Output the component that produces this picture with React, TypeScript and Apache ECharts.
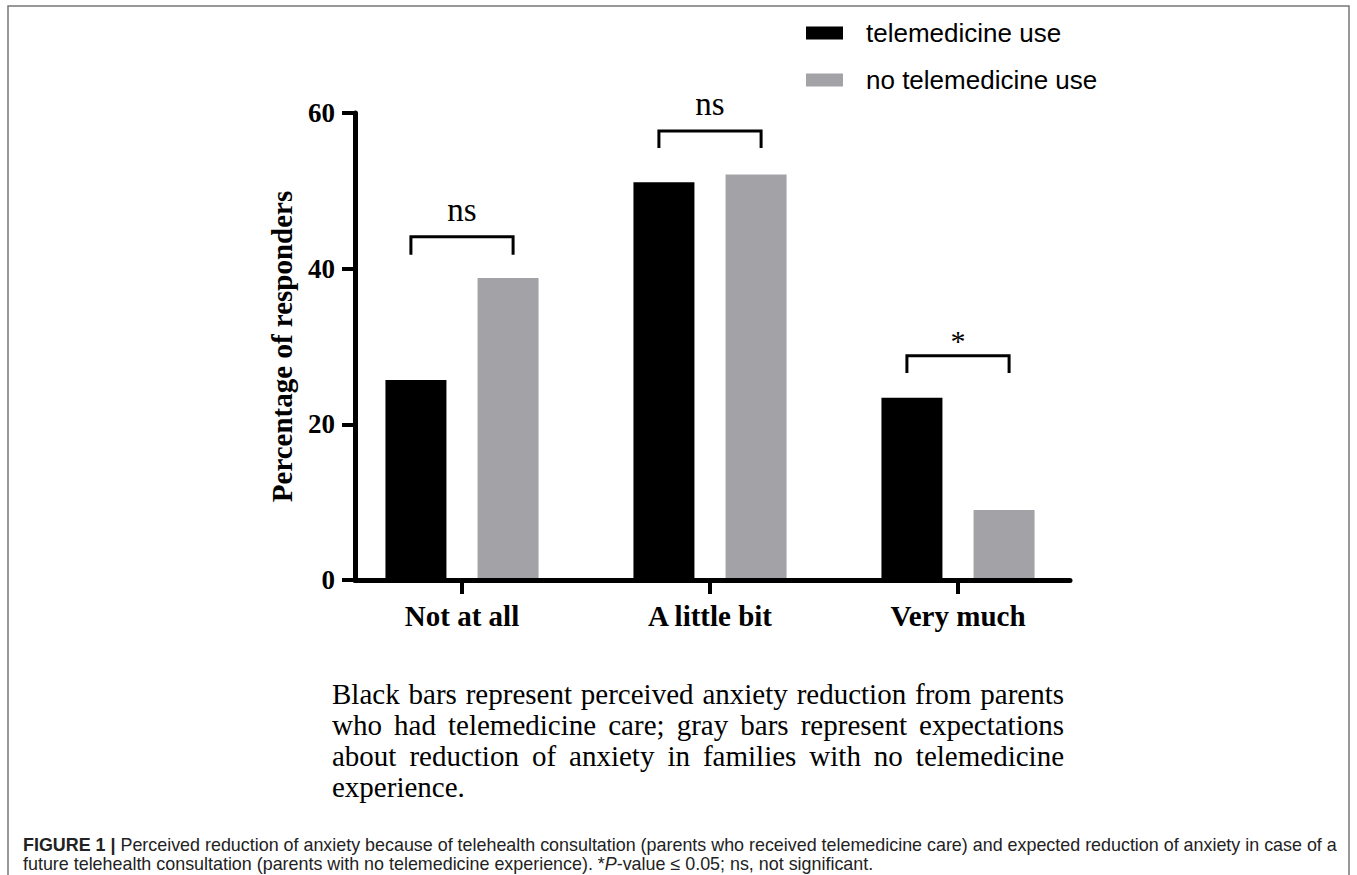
import React, { useEffect, useRef } from "react";
import * as echarts from "echarts";

const categories = ["Not at all", "A little bit", "Very much"];
const telemedicineUse = [25.7, 51.1, 23.4];
const noTelemedicineUse = [38.8, 52.1, 9.0];
const yTicks = [0, 20, 40, 60];
// bracket: [category index, bracket top value, leg bottom value]
const brackets = [
  [0, 44.1, 41.8],
  [1, 57.7, 55.5],
  [2, 28.8, 26.6],
];
const bracketLabels = ["ns", "ns", "*"];
const seriesNames = ["telemedicine use", "no telemedicine use"];
const noteLines = [
  "Black bars represent perceived anxiety reduction from parents",
  "who had telemedicine care; gray bars represent expectations",
  "about reduction of anxiety in families with no telemedicine",
  "experience.",
];
const captionLine1 =
  "{b|FIGURE 1 |} Perceived reduction of anxiety because of telehealth consultation (parents who received telemedicine care) and expected reduction of anxiety in case of a";
const captionLine2 =
  "future telehealth consultation (parents with no telemedicine experience). *{i|P}-value ≤ 0.05; ns, not significant.";

const SERIF = "'Liberation Serif', 'Times New Roman', serif";
const SANS = "'Liberation Sans', Arial, sans-serif";
const GRAY = "#a3a2a7";

const NOTE_SIZE = 29;
const NOTE_LEFT = 332;
const NOTE_WIDTH = 732;
const NOTE_TOP = 679;
const NOTE_LINE = 31;
const CAP_SIZE = 17.9;

function buildNote(): any[] {
  const ctx = document.createElement("canvas").getContext("2d");
  const font = `${NOTE_SIZE}px ${SERIF}`;
  const measure = (s: string) => {
    if (!ctx) return s.length * NOTE_SIZE * 0.45;
    ctx.font = font;
    return ctx.measureText(s).width;
  };
  const els: any[] = [];
  noteLines.forEach((line, i) => {
    const y = NOTE_TOP + i * NOTE_LINE;
    const last = i === noteLines.length - 1;
    const words = line.split(" ");
    if (last || words.length < 2) {
      els.push({
        type: "text",
        x: NOTE_LEFT,
        y,
        style: { text: line, fontFamily: SERIF, fontSize: NOTE_SIZE, fill: "#000", verticalAlign: "top" },
      });
      return;
    }
    const widths = words.map(measure);
    const total = widths.reduce((a, b) => a + b, 0);
    const gap = (NOTE_WIDTH - total) / (words.length - 1);
    let x = NOTE_LEFT;
    words.forEach((w, j) => {
      els.push({
        type: "text",
        x,
        y,
        style: { text: w, fontFamily: SERIF, fontSize: NOTE_SIZE, fill: "#000", verticalAlign: "top" },
      });
      x += widths[j] + gap;
    });
  });
  return els;
}

export default function App() {
  const ref = useRef<HTMLDivElement>(null);
  useEffect(() => {
    if (!ref.current) return;
    const chart = echarts.init(ref.current, undefined, { renderer: "svg" });
    const captionRich = {
      b: { fontFamily: SANS, fontSize: CAP_SIZE, fontWeight: "bold", fill: "#222" },
      i: { fontFamily: SANS, fontSize: CAP_SIZE, fontStyle: "italic", fill: "#222" },
    };
    const option: any = {
      animation: false,
      backgroundColor: "#fff",
      legend: {
        orient: "vertical",
        left: 806,
        top: 20,
        padding: 0,
        itemWidth: 37,
        itemHeight: 13,
        itemGap: 21,
        icon: "rect",
        data: seriesNames,
        formatter: (n: string) => "{t|" + n + "}",
        textStyle: {
          rich: {
            t: {
              fontFamily: SANS,
              fontSize: 26,
              color: "#000",
              padding: [0, 0, 0, 18],
            },
          },
        },
      },
      grid: [
        { left: 338, width: 744, top: 113, height: 467 },
        { left: 355, width: 715, top: 113, height: 467 },
      ],
      xAxis: [
        {
          type: "category",
          gridIndex: 0,
          data: categories,
          axisLine: { show: false },
          axisTick: {
            show: true,
            alignWithLabel: true,
            length: 14,
            lineStyle: { color: "#000", width: 4 },
          },
          axisLabel: {
            margin: 21,
            fontFamily: SERIF,
            fontWeight: "bold",
            fontSize: 29,
            color: "#000",
          },
          splitLine: { show: false },
        },
        {
          type: "value",
          gridIndex: 1,
          min: 0,
          max: 1,
          z: 5,
          axisLine: { show: true, lineStyle: { color: "#000", width: 5 } },
          axisTick: { show: false },
          axisLabel: { show: false },
          splitLine: { show: false },
        },
      ],
      yAxis: [
        {
          type: "value",
          gridIndex: 0,
          min: 0,
          max: 60,
          show: false,
        },
        {
          type: "value",
          gridIndex: 1,
          min: 0,
          max: 60,
          interval: 20,
          z: 5,
          name: "Percentage of responders",
          nameLocation: "middle",
          nameGap: 59,
          nameTextStyle: {
            fontFamily: SERIF,
            fontWeight: "bold",
            fontSize: 29,
            color: "#000",
          },
          axisLine: { show: true, lineStyle: { color: "#000", width: 5 } },
          axisTick: { show: true, length: 13, lineStyle: { color: "#000", width: 4 } },
          axisLabel: {
            margin: 20,
            fontFamily: SERIF,
            fontWeight: "bold",
            fontSize: 27,
            color: "#000",
            customValues: yTicks,
          },
          splitLine: { show: false },
        },
      ],
      series: [
        {
          name: seriesNames[0],
          type: "bar",
          xAxisIndex: 0,
          yAxisIndex: 0,
          data: telemedicineUse,
          barWidth: 61,
          barGap: "51%",
          itemStyle: { color: "#000" },
        },
        {
          name: seriesNames[1],
          type: "bar",
          xAxisIndex: 0,
          yAxisIndex: 0,
          data: noTelemedicineUse,
          barWidth: 61,
          barGap: "51%",
          itemStyle: { color: GRAY },
        },
        {
          type: "custom",
          xAxisIndex: 0,
          yAxisIndex: 0,
          z: 6,
          data: brackets,
          encode: { x: 0, y: [1, 2] },
          renderItem: (params: any, api: any) => {
            const idx = api.value(0);
            const top = api.coord([idx, api.value(1)]);
            const leg = api.coord([idx, api.value(2)]);
            const band = api.size([1, 0])[0];
            const half = band * 0.206;
            const label = bracketLabels[params.dataIndex];
            const isStar = label === "*";
            return {
              type: "group",
              children: [
                {
                  type: "polyline",
                  shape: {
                    points: [
                      [top[0] - half, leg[1]],
                      [top[0] - half, top[1]],
                      [top[0] + half, top[1]],
                      [top[0] + half, leg[1]],
                    ],
                  },
                  style: { stroke: "#000", lineWidth: 3, fill: "none" },
                },
                {
                  type: "text",
                  style: {
                    text: label,
                    x: top[0],
                    y: top[1] - (isStar ? 15 : 27),
                    align: "center",
                    verticalAlign: "middle",
                    fontFamily: SERIF,
                    fontSize: isStar ? 30 : 33,
                    fill: "#000",
                  },
                },
              ],
            };
          },
        },
      ],
      graphic: [
        {
          type: "rect",
          shape: { x: 8, y: 6, width: 1341, height: 900 },
          style: { fill: "none", stroke: "#777", lineWidth: 1.5 },
          silent: true,
        },
        ...buildNote(),
        {
          type: "text",
          left: 23,
          top: 836,
          style: {
            text: captionLine1,
            fontFamily: SANS,
            fontSize: CAP_SIZE,
            fill: "#222",
            rich: captionRich,
          },
        },
        {
          type: "text",
          left: 23,
          top: 855,
          style: {
            text: captionLine2,
            fontFamily: SANS,
            fontSize: CAP_SIZE,
            fill: "#222",
            rich: captionRich,
          },
        },
      ],
    };
    chart.setOption(option);
    return () => chart.dispose();
  }, []);
  return (
    <div
      ref={ref}
      style={{ position: "absolute", left: 0, top: 0, width: 1357, height: 875 }}
    />
  );
}
